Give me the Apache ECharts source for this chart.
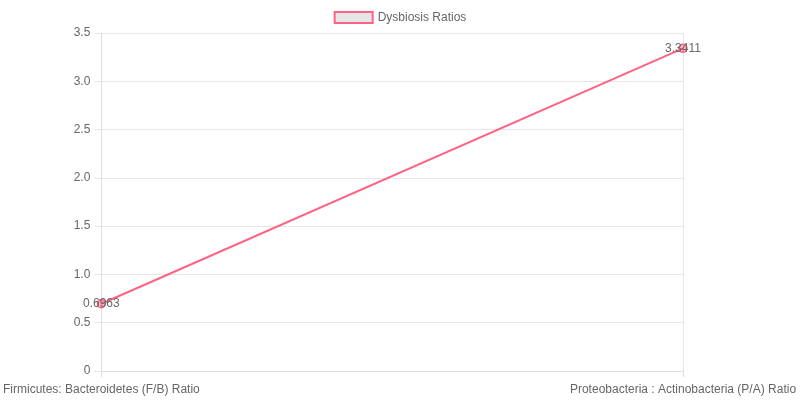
<!DOCTYPE html>
<html>
<head>
<meta charset="utf-8">
<script src="https://cdn.jsdelivr.net/npm/echarts@6/dist/echarts.min.js"></script>
<style>
  html, body { margin: 0; padding: 0; background: #fff; }
  #chart { width: 800px; height: 400px; }
</style>
</head>
<body>
<div id="chart"></div>
<script>
// 数据
var categories = ['Firmicutes: Bacteroidetes (F/B) Ratio', 'Proteobacteria : Actinobacteria (P/A) Ratio'];
var ratioValues = [0.6963, 3.3411];
var seriesName = 'Dysbiosis Ratios';

var pink = 'rgb(255, 99, 132)';
var textGray = '#666';
var fontFamily = '"Liberation Sans", Arial, sans-serif';

var chart = echarts.init(document.getElementById('chart'));

var option = {
    animation: false,
    textStyle: { fontFamily: fontFamily },
    legend: {
        top: 6,
        left: 'center',
        icon: 'rect',
        itemWidth: 38,
        itemHeight: 11,
        itemGap: 10,
        textStyle: { color: textGray, fontSize: 12, fontFamily: fontFamily },
        data: [{
            name: seriesName,
            itemStyle: { color: '#e6e6e6', borderColor: pink, borderWidth: 2 }
        }]
    },
    grid: { left: 101, right: 117, top: 33, bottom: 29 },
    xAxis: {
        type: 'category',
        boundaryGap: false,
        data: categories,
        axisLine: { show: true, lineStyle: { color: '#ddd' } },
        axisTick: { show: true, length: 6, lineStyle: { color: '#ddd' } },
        splitLine: { show: true, lineStyle: { color: '#e6e6e6' } },
        axisLabel: { color: textGray, fontSize: 12, margin: 13, fontFamily: fontFamily }
    },
    yAxis: {
        type: 'value',
        min: 0,
        max: 3.5,
        interval: 0.5,
        axisLine: { show: true, lineStyle: { color: '#ddd' } },
        axisTick: { show: true, length: 7, lineStyle: { color: '#e6e6e6' } },
        splitLine: { show: true, lineStyle: { color: '#e6e6e6' } },
        axisLabel: {
            color: textGray,
            fontSize: 12,
            margin: 11,
            fontFamily: fontFamily,
            formatter: function (v) { return v === 0 ? '0' : v.toFixed(1); }
        }
    },
    series: [{
        name: seriesName,
        type: 'line',
        data: ratioValues,
        symbol: 'circle',
        symbolSize: 8,
        lineStyle: { color: pink, width: 2 },
        itemStyle: { color: 'rgba(255, 99, 132, 0.5)', borderColor: pink, borderWidth: 1.5 },
        label: {
            show: true,
            position: 'inside',
            color: textGray,
            fontSize: 12,
            fontFamily: fontFamily
        }
    }]
};

chart.setOption(option);
</script>
</body>
</html>
